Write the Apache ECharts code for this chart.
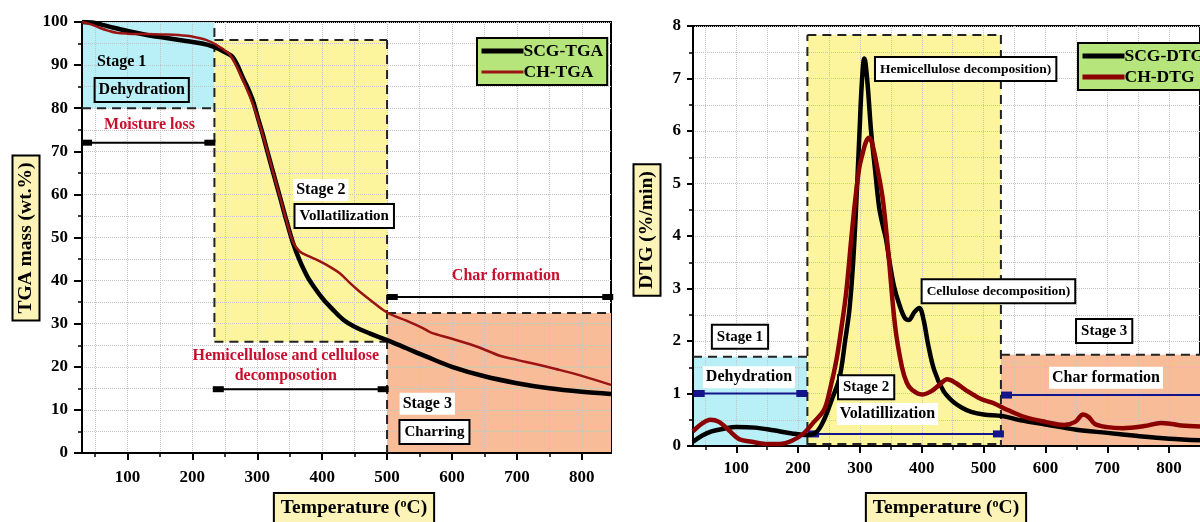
<!DOCTYPE html>
<html>
<head>
<meta charset="utf-8">
<script src="https://cdn.jsdelivr.net/npm/echarts@6/dist/echarts.min.js"></script>
<style>
  html, body { margin: 0; padding: 0; background: #fff; }
  #chart { width: 1200px; height: 522px; }
</style>
</head>
<body>
<div id="chart"></div>
<script>
const FONT = '"Liberation Serif", "Times New Roman", serif';

// ---- TGA mass loss, [temperature °C, mass wt.%] ----
const scgTga = [[30,100],[45,99.9],[60,99.4],[75,98.8],[100,97.9],[130,97.0],[160,96.3],[190,95.6],[215,95.0],[232,94.3],[245,93.4],[255,92.6],[262,91.9],[270,89.8],[278,87.0],[286,84.5],[293,81.9],[300,78.3],[308,74.2],[315,70.3],[325,64.8],[335,59.4],[345,53.9],[355,48.8],[365,44.8],[377,41.0],[390,38.0],[402,35.6],[415,33.5],[432,31.0],[450,29.3],[474,27.7],[500,26.2],[530,24.3],[560,22.4],[600,20.0],[650,17.8],[700,16.2],[750,15.0],[800,14.2],[845,13.7]];
const chTga = [[30,100],[45,99.4],[58,98.6],[70,98.0],[83,97.5],[100,97.3],[130,97.2],[160,97.1],[191,96.8],[210,96.3],[222,95.8],[235,94.9],[242,94.2],[250,93.4],[257,92.6],[265,90.6],[275,87.5],[289,82.6],[300,78.0],[308,74.0],[315,70.3],[325,64.8],[335,59.4],[345,53.9],[355,49.0],[365,46.8],[380,45.6],[392,44.8],[412,43.2],[428,41.6],[443,39.4],[458,37.4],[474,35.5],[500,32.6],[530,30.7],[555,29.0],[567,28.0],[600,26.5],[640,24.6],[675,22.5],[700,21.6],[730,20.6],[760,19.5],[800,17.9],[845,15.8]];

// ---- DTG rate, [temperature °C, %/min] ----
const scgDtg = [[30,0.08],[45,0.2],[60,0.28],[80,0.33],[100,0.36],[130,0.35],[160,0.3],[190,0.24],[215,0.21],[230,0.27],[242,0.5],[255,0.9],[267,1.3],[276,2.0],[283,2.6],[289,3.5],[294,4.6],[299,5.9],[303,6.9],[307,7.38],[309,7.3],[313,6.8],[318,6.0],[325,5.2],[331,4.55],[337,4.2],[342,3.95],[348,3.5],[355,3.05],[363,2.72],[372,2.45],[379,2.4],[388,2.55],[396,2.63],[403,2.4],[410,1.95],[420,1.45],[435,1.05],[450,0.85],[465,0.73],[480,0.65],[500,0.6],[530,0.57],[560,0.49],[600,0.41],[650,0.31],[700,0.25],[750,0.19],[800,0.14],[850,0.11]];
const chDtg = [[30,0.28],[45,0.43],[58,0.5],[72,0.46],[88,0.3],[105,0.13],[125,0.08],[147,0.04],[170,0.04],[190,0.1],[210,0.25],[225,0.45],[242,0.69],[252,1.1],[262,1.64],[270,2.25],[278,2.95],[286,3.95],[293,4.75],[299,5.3],[305,5.6],[310,5.8],[315,5.87],[320,5.75],[328,5.3],[337,4.7],[346,3.67],[357,2.27],[368,1.5],[376,1.2],[384,1.07],[400,0.98],[415,1.04],[430,1.18],[441,1.27],[455,1.2],[473,1.05],[495,0.9],[515,0.82],[540,0.68],[567,0.55],[600,0.46],[630,0.4],[648,0.46],[661,0.6],[670,0.55],[680,0.42],[700,0.36],[725,0.34],[760,0.38],[787,0.44],[805,0.42],[820,0.39],[850,0.37]];

// ---- tick values ----
const xMajorTicks = [100, 200, 300, 400, 500, 600, 700, 800];
const xMinorTicks = [50, 100, 150, 200, 250, 300, 350, 400, 450, 500, 550, 600, 650, 700, 750, 800];

// ---- stage zones [x0, y0, x1, y1] ----
const tgaZones = [[30, 80, 234, 100], [234, 25.8, 500, 95.8], [500, 0, 845, 32.5]];
const dtgZones = [[30, 0, 215, 1.7], [215, 0, 528, 7.83], [528, 0, 850, 1.74]];
const zoneColors = ['#b9eff6', '#fcf59e', '#f8bc98'];

// ---- dashed zone outlines [x0, y0, x1, y1] ----
const tgaDashes = [[30, 80, 234, 80], [234, 98.6, 234, 25.8], [234, 95.8, 500, 95.8], [234, 25.8, 500, 25.8], [500, 95.8, 500, 0], [500, 32.5, 845, 32.5]];
const dtgDashes = [[30, 1.7, 215, 1.7], [215, 0, 215, 7.83], [215, 7.83, 528, 7.83], [528, 7.83, 528, 0], [215, 0.04, 528, 0.04], [528, 1.74, 850, 1.74]];

// ---- temperature ranges [x0, x1, y, marker A, marker B] ----
const tgaRanges = [[30, 234, 72, 37, 227], [232, 500, 14.8, 240, 494], [500, 845, 36.2, 508, 840]];
const dtgRanges = [[30, 215, 1.0, 40, 206], [215, 528, 0.23, 225, 524], [528, 860, 0.97, 537, 900]];

// ---- notes: text and anchor [x, y] ----
const tgaNoteText = ['Stage 1', 'Dehydration', 'Moisture loss', 'Stage 2', 'Vollatilization', 'Hemicellulose and cellulose\ndecomposotion', 'Char formation', 'Stage 3', 'Charring'];
const tgaNoteAt = [[91, 90.7], [122, 84.2], [134, 76.1], [398, 61], [434, 55], [344, 20.2], [683, 41.1], [562, 11.4], [573, 4.9]];
const tgaNoteKind = ['plain', 'outline', 'red', 'white', 'box', 'red', 'red', 'white', 'box'];

const dtgNoteText = ['Hemicellulose decomposition)', 'Cellulose decomposition)', 'Stage 1', 'Dehydration', 'Stage 2', 'Volatillization', 'Stage 3', 'Char formation'];
const dtgNoteAt = [[471, 7.18], [524, 2.95], [106, 2.08], [120.5, 1.31], [310, 1.12], [344.5, 0.61], [695, 2.19], [698, 1.3]];
const dtgNoteKind = ['boxSmall', 'boxSmall', 'box', 'white', 'box', 'white', 'box', 'white'];

const gridLine = { color: '#c4c4c4', type: 'dotted', width: 1 };

function noteStyle(kind, text) {
  const s = { text: text, fill: '#000', font: 'bold 16px ' + FONT, align: 'center', verticalAlign: 'middle', lineHeight: 20 };
  if (kind === 'red') { s.fill = '#c8102e'; }
  if (kind === 'white') { s.backgroundColor = '#ffffff'; s.padding = [1, 3]; }
  if (kind === 'box') { s.font = 'bold 15px ' + FONT; s.backgroundColor = '#ffffff'; s.borderColor = '#000'; s.borderWidth = 2; s.padding = [1, 4]; }
  if (kind === 'outline') { s.borderColor = '#000'; s.borderWidth = 2; s.padding = [2, 4]; }
  if (kind === 'boxSmall') { s.font = 'bold 13.5px ' + FONT; s.backgroundColor = '#ffffff'; s.borderColor = '#000'; s.borderWidth = 2; s.padding = [1, 4]; }
  return s;
}

function zoneSeries(zones, xi, yi) {
  return {
    type: 'custom', xAxisIndex: xi, yAxisIndex: yi, z: 1, silent: true,
    data: zones,
    encode: { x: [0, 2], y: [1, 3] },
    renderItem: function (params, api) {
      const a = api.coord([api.value(0), api.value(3)]);
      const b = api.coord([api.value(2), api.value(1)]);
      return { type: 'rect', shape: { x: a[0], y: a[1], width: b[0] - a[0], height: b[1] - a[1] }, style: { fill: zoneColors[params.dataIndex] } };
    }
  };
}

function dashSeries(lines, xi, yi) {
  return {
    type: 'custom', xAxisIndex: xi, yAxisIndex: yi, z: 4, silent: true,
    data: lines,
    encode: { x: [0, 2], y: [1, 3] },
    renderItem: function (params, api) {
      const a = api.coord([api.value(0), api.value(1)]);
      const b = api.coord([api.value(2), api.value(3)]);
      return { type: 'line', shape: { x1: a[0], y1: a[1], x2: b[0], y2: b[1] }, style: { stroke: '#222', lineWidth: 2, lineDash: [9, 6] } };
    }
  };
}

function rangeSeries(ranges, xi, yi, color, mw, mh) {
  return {
    type: 'custom', xAxisIndex: xi, yAxisIndex: yi, z: 6, silent: true,
    data: ranges,
    encode: { x: [0, 1], y: 2 },
    renderItem: function (params, api) {
      const y = api.value(2);
      const a = api.coord([api.value(0), y]);
      const b = api.coord([api.value(1), y]);
      const m1 = api.coord([api.value(3), y]);
      const m2 = api.coord([api.value(4), y]);
      return {
        type: 'group', children: [
          { type: 'line', shape: { x1: a[0], y1: a[1], x2: b[0], y2: b[1] }, style: { stroke: color, lineWidth: 2 } },
          { type: 'rect', shape: { x: m1[0] - mw / 2, y: m1[1] - mh / 2, width: mw, height: mh }, style: { fill: color } },
          { type: 'rect', shape: { x: m2[0] - mw / 2, y: m2[1] - mh / 2, width: mw, height: mh }, style: { fill: color } }
        ]
      };
    }
  };
}

function noteSeries(at, texts, kinds, xi, yi) {
  return {
    type: 'custom', xAxisIndex: xi, yAxisIndex: yi, z: 8, silent: true,
    data: at,
    renderItem: function (params, api) {
      const p = api.coord([api.value(0), api.value(1)]);
      return { type: 'text', x: p[0], y: p[1], style: noteStyle(kinds[params.dataIndex], texts[params.dataIndex]) };
    }
  };
}

function curve(name, data, xi, yi, color, width) {
  return {
    name: name, type: 'line', xAxisIndex: xi, yAxisIndex: yi, z: 7,
    data: data, showSymbol: false, symbol: 'none', smooth: 0.35,
    lineStyle: { color: color, width: width }, itemStyle: { color: color }
  };
}

const labelFont = { fontFamily: FONT, fontWeight: 'bold', fontSize: 17, color: '#000' };

function xAxes(gridIndex, min, max, margin) {
  return [
    {
      gridIndex: gridIndex, type: 'value', min: min, max: max, z: 3,
      axisLine: { onZero: false, lineStyle: { color: '#000', width: 2 } },
      axisTick: { customValues: xMajorTicks, length: 7, lineStyle: { color: '#000', width: 2 } },
      axisLabel: Object.assign({ customValues: xMajorTicks, margin: margin }, labelFont),
      splitLine: { show: true, lineStyle: gridLine }
    },
    {
      gridIndex: gridIndex, type: 'value', min: min, max: max, z: 3, position: 'bottom',
      axisLine: { show: false },
      axisTick: { customValues: xMinorTicks, length: 4, lineStyle: { color: '#000', width: 1.5 } },
      axisLabel: { show: false },
      splitLine: { show: true, lineStyle: gridLine }
    }
  ];
}

function yAxis(gridIndex, max, interval, margin, tickLen) {
  return {
    gridIndex: gridIndex, type: 'value', min: 0, max: max, interval: interval, z: 3,
    axisLine: { show: true, lineStyle: { color: '#000', width: 2 } },
    axisTick: { show: true, length: tickLen, lineStyle: { color: '#000', width: 2 } },
    minorTick: { show: true, splitNumber: 2, length: 4, lineStyle: { color: '#000', width: 1.5 } },
    axisLabel: Object.assign({ margin: margin }, labelFont),
    splitLine: { show: true, lineStyle: gridLine },
    minorSplitLine: { show: true, lineStyle: gridLine }
  };
}

const titleBox = { fill: '#000', font: 'bold 19.5px ' + FONT, backgroundColor: '#fcf3b9', borderColor: '#000', borderWidth: 2 };

// legend entries: [name, line colour, line width]
function legendOf(entries, left, top) {
  return {
    data: entries.map(function (e) { return { name: e[0], lineStyle: { color: e[1], width: e[2] } }; }),
    left: left, top: top, orient: 'vertical', selectedMode: false,
    backgroundColor: '#b6e57c', borderColor: '#000', borderWidth: 2, borderRadius: 0,
    padding: [4, 4, 4, 2], itemGap: 3, itemWidth: 42, itemHeight: 16,
    itemStyle: { color: 'rgba(0,0,0,0)', borderWidth: 0, borderColor: 'rgba(0,0,0,0)' },
    textStyle: { fontFamily: FONT, fontWeight: 'bold', fontSize: 17.5, color: '#000', padding: [0, 0, 0, -5] }
  };
}

const chart = echarts.init(document.getElementById('chart'), null, { renderer: 'canvas' });
chart.setOption({
  animation: false,
  backgroundColor: '#ffffff',
  grid: [
    { left: 82, top: 22, width: 529, height: 431, show: true, borderColor: '#000', borderWidth: 2, backgroundColor: 'transparent' },
    { left: 693, top: 26, width: 520, height: 420, show: true, borderColor: '#000', borderWidth: 2, backgroundColor: 'transparent' }
  ],
  xAxis: xAxes(0, 30, 845, 16).concat(xAxes(1, 30, 850, 14)),
  yAxis: [yAxis(0, 100, 10, 14, 8), yAxis(1, 8, 1, 12, 6)],
  legend: [
    legendOf([['SCG-TGA', '#000000', 5], ['CH-TGA', '#9b1414', 3]], 477, 38),
    legendOf([['SCG-DTG', '#000000', 5], ['CH-DTG', '#8b0000', 5]], 1078, 43)
  ],
  graphic: [
    { type: 'text', x: 26, y: 238, rotation: Math.PI / 2, z: 10,
      style: Object.assign({ text: 'TGA mass (wt.%)', align: 'center', verticalAlign: 'middle', padding: [3, 6, 2, 6] }, titleBox) },
    { type: 'text', x: 647, y: 230, rotation: Math.PI / 2, z: 10,
      style: Object.assign({ text: 'DTG (%/min)', align: 'center', verticalAlign: 'middle', padding: [3, 6, 2, 6] }, titleBox) },
    { type: 'text', x: 354, y: 494, z: 10,
      style: Object.assign({ text: 'Temperature ({sup|o}C)', align: 'center', verticalAlign: 'top', padding: [4, 6, 10, 6],
        rich: { sup: { font: 'bold 12px ' + FONT, verticalAlign: 'top', fill: '#000' } } }, titleBox) },
    { type: 'text', x: 946, y: 494, z: 10,
      style: Object.assign({ text: 'Temperature ({sup|o}C)', align: 'center', verticalAlign: 'top', padding: [4, 6, 10, 6],
        rich: { sup: { font: 'bold 12px ' + FONT, verticalAlign: 'top', fill: '#000' } } }, titleBox) }
  ],
  series: [
    zoneSeries(tgaZones, 0, 0),
    dashSeries(tgaDashes, 0, 0),
    rangeSeries(tgaRanges, 0, 0, '#000000', 11, 6),
    curve('SCG-TGA', scgTga, 0, 0, '#000000', 4.5),
    curve('CH-TGA', chTga, 0, 0, '#9b1414', 2.5),
    noteSeries(tgaNoteAt, tgaNoteText, tgaNoteKind, 0, 0),

    zoneSeries(dtgZones, 2, 1),
    dashSeries(dtgDashes, 2, 1),
    rangeSeries(dtgRanges, 2, 1, '#14148c', 11, 7),
    curve('SCG-DTG', scgDtg, 2, 1, '#000000', 4.5),
    curve('CH-DTG', chDtg, 2, 1, '#8b0000', 4.5),
    noteSeries(dtgNoteAt, dtgNoteText, dtgNoteKind, 2, 1)
  ]
});
</script>
</body>
</html>
